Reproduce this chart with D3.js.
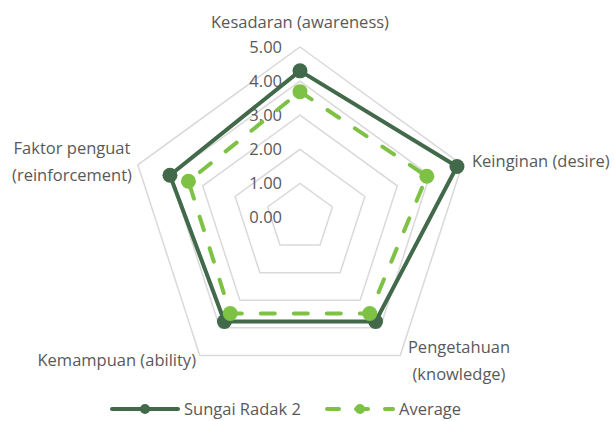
<!DOCTYPE html>
<html lang="en">
<head>
    <meta charset="UTF-8">
    <title>Radar chart</title>
    <script src="https://d3js.org/d3.v7.min.js"></script>
    <style>
        body { margin: 0; background: #fff; }
        text { font-family: "Open Sans", Lato, sans-serif; fill: #595959; font-size: 16.5px; }
    </style>
</head>
<body>
    <svg width="614" height="421"></svg>
    <script>
        // 数据
        var categories = ["Kesadaran (awareness)", "Keinginan (desire)", "Pengetahuan (knowledge)", "Kemampuan (ability)", "Faktor penguat (reinforcement)"];
        var sungaiRadak = [4.30, 4.84, 3.77, 3.77, 4.01];
        var average = [3.69, 3.91, 3.48, 3.48, 3.44];
        var ticks = [0, 1, 2, 3, 4, 5];

        var svg = d3.select("svg");
        var cx = 300, cy = 217.5, R = 170.5;
        var g = svg.append("g").attr("transform", "translate(" + cx + "," + cy + ")");

        var r = d3.scaleLinear().domain([0, 5]).range([0, R]);
        var angle = d3.scalePoint().domain(d3.range(categories.length + 1)).range([0, 2 * Math.PI]);

        function pt(i, v) {
            var a = angle(i);
            return [r(v) * Math.sin(a), -r(v) * Math.cos(a)];
        }

        var radial = d3.lineRadial()
            .angle(function(d, i) { return angle(i); })
            .radius(function(d) { return r(d); })
            .curve(d3.curveLinearClosed);

        // 网格
        g.append("g").selectAll("path")
            .data(ticks)
            .enter()
            .append("path")
            .attr("d", function(t) { return radial(categories.map(function() { return t; })); })
            .attr("fill", "none")
            .attr("stroke", "#d9d9d9")
            .attr("stroke-width", 1.5);

        // 刻度
        g.append("g").selectAll("text")
            .data(ticks)
            .enter()
            .append("text")
            .attr("x", -18)
            .attr("y", function(t) { return -r(t); })
            .attr("dy", "0.35em")
            .attr("text-anchor", "end")
            .text(function(t) { return d3.format(".2f")(t); });

        // 类别标签
        var labelPos = [
            {dx: 0, dy: -195, anchor: "middle", lines: ["Kesadaran (awareness)"]},
            {dx: 172, dy: -56, anchor: "start", lines: ["Keinginan (desire)"]},
            {dx: 159, dy: 130, anchor: "middle", lines: ["Pengetahuan", "(knowledge)"]},
            {dx: -104, dy: 143, anchor: "end", lines: ["Kemampuan (ability)"]},
            {dx: -228, dy: -69, anchor: "middle", lines: ["Faktor penguat", "(reinforcement)"]}
        ];
        var lbl = g.append("g").selectAll("text")
            .data(labelPos)
            .enter()
            .append("text")
            .attr("text-anchor", function(d) { return d.anchor; });
        lbl.selectAll("tspan")
            .data(function(d) { return d.lines.map(function(l, k) { return {t: l, k: k, d: d}; }); })
            .enter()
            .append("tspan")
            .attr("x", function(o) { return o.d.dx; })
            .attr("y", function(o) { return o.d.dy + o.k * 27; })
            .attr("dy", "0.35em")
            .text(function(o) { return o.t; });

        // 系列
        var series = [
            {name: "Sungai Radak 2", values: sungaiRadak, color: "#41694a", dash: null, mr: 7.5},
            {name: "Average", values: average, color: "#7ec245", dash: "14,19", mr: 7.5}
        ];

        series.forEach(function(s) {
            g.append("path")
                .attr("d", radial(s.values))
                .attr("fill", "none")
                .attr("stroke", s.color)
                .attr("stroke-width", 4)
                .attr("stroke-linecap", "round")
                .attr("stroke-linejoin", "round")
                .attr("stroke-dasharray", s.dash);
            g.append("g").selectAll("circle")
                .data(s.values)
                .enter()
                .append("circle")
                .attr("cx", function(v, i) { return pt(i, v)[0]; })
                .attr("cy", function(v, i) { return pt(i, v)[1]; })
                .attr("r", s.mr)
                .attr("fill", s.color);
        });

        // 图例
        var legendX = [110, 325];
        var legend = svg.append("g").selectAll("g")
            .data(series)
            .enter()
            .append("g")
            .attr("transform", function(d, i) { return "translate(" + legendX[i] + ",409)"; });
        legend.append("line")
            .attr("x1", 2).attr("x2", 68)
            .attr("stroke", function(d) { return d.color; })
            .attr("stroke-width", 4)
            .attr("stroke-linecap", "round")
            .attr("stroke-dasharray", function(d) { return d.dash ? "12,17" : null; });
        legend.append("circle")
            .attr("cx", 35)
            .attr("r", 5)
            .attr("fill", function(d) { return d.color; });
        legend.append("text")
            .attr("x", 74)
            .attr("dy", "0.35em")
            .text(function(d) { return d.name; });
    </script>
</body>
</html>
